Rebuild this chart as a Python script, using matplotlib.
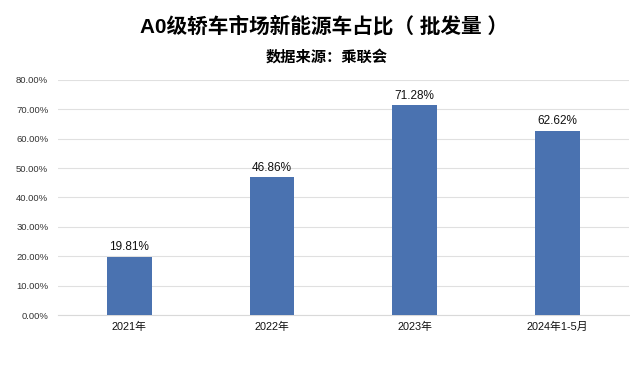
import matplotlib.pyplot as plt
from matplotlib.ticker import FuncFormatter

plt.rcParams['font.family'] = ['Liberation Sans', 'Noto Sans CJK SC']

categories = ['2021年', '2022年', '2023年', '2024年1-5月']
shares = [19.81, 46.86, 71.28, 62.62]
yticks = [0, 10, 20, 30, 40, 50, 60, 70, 80]

fig = plt.figure(figsize=(6.3, 3.68), dpi=100)
ax = fig.add_axes([0.092, 0.144, 0.906, 0.639])

x = range(len(categories))
bars = ax.bar(x, shares, width=0.315, color='#4a72b0', zorder=3)

# value labels above each bar
for b, v in zip(bars, shares):
    ax.text(b.get_x() + b.get_width() / 2, v + 1.2, f'{v:.2f}%',
            ha='center', va='bottom', fontsize=8.5, color='#111111')

ax.set_xlim(-0.5, len(categories) - 0.5)
ax.set_ylim(0, 80)
ax.set_yticks(yticks)
ax.yaxis.set_major_formatter(FuncFormatter(lambda v, _: f'{v:.2f}%'))
ax.set_xticks(list(x))
ax.set_xticklabels(categories)
ax.tick_params(axis='y', length=0, labelsize=6.8, pad=7, colors='#333333')
ax.tick_params(axis='x', length=0, labelsize=7.8, pad=5, colors='#111111')
ax.grid(axis='y', color='#e0e0e0', linewidth=0.8, zorder=0)
for s in ['top', 'right', 'left']:
    ax.spines[s].set_visible(False)
ax.spines['bottom'].set_color('#d9d9d9')

fig.text(0.515, 0.93, 'A0级轿车市场新能源车占比（ 批发量 ）', ha='center', va='center',
         fontsize=14.9, fontweight='bold')
fig.text(0.518, 0.845, '数据来源：乘联会', ha='center', va='center',
         fontsize=11, fontweight='bold')

fig.savefig('out.png', dpi=100)
